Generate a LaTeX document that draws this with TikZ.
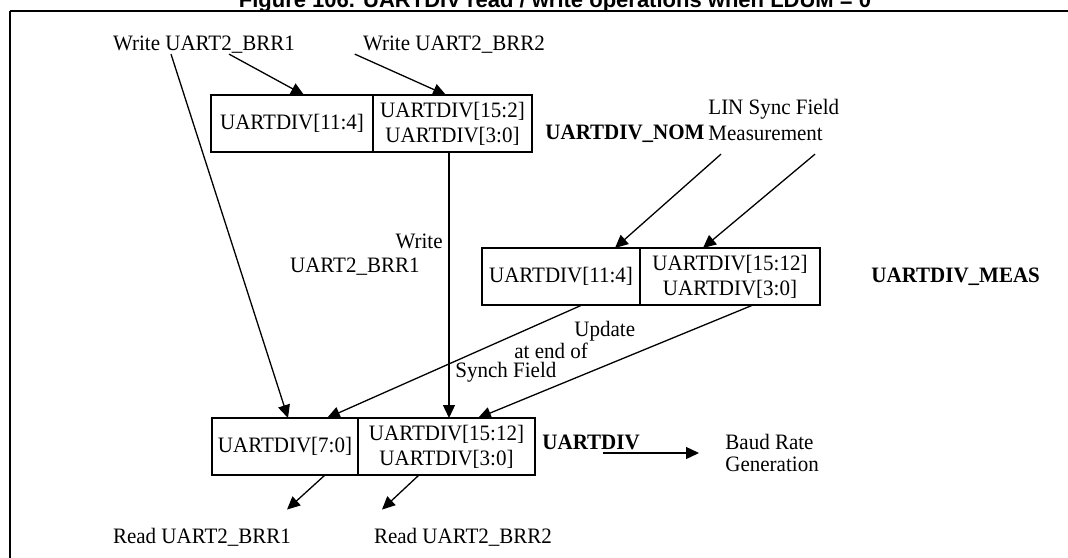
\documentclass[tikz,border=0pt]{standalone}
\usepackage{fontspec}
\setmainfont{Liberation Serif}[FakeStretch=0.955]
\newfontfamily\titlefont{Liberation Sans}
\usetikzlibrary{arrows.meta,positioning}
\tikzset{
  cell/.style={draw, line width=0.75pt, minimum height=28.5pt, inner sep=1pt, outer sep=0pt,
               align=center, font=\fontsize{11pt}{12.5pt}\selectfont},
  flow/.style={-{Triangle[length=6.5pt,width=6pt]}, line width=0.65pt},
  lbl/.style={inner sep=0pt, font=\fontsize{11pt}{12pt}\selectfont},
  reglbl/.style={inner sep=0pt, font=\fontsize{11pt}{12pt}\selectfont\bfseries}
}

\begin{document}
\begin{tikzpicture}[x=0.5pt, y=-0.5pt]
  \useasboundingbox (0,0) rectangle (1068,557);
  % frame and (cut) caption
  \node[anchor=base, inner sep=0pt, font=\titlefont\bfseries\fontsize{11pt}{12pt}\selectfont] (title)
    at (555,7) {Figure 106. UARTDIV read / write operations when LDUM = 0};
  \draw[line width=0.6pt] (10,600) -- (10,11);
  \draw[line width=1.2pt] (10,11) -- (1100,11);

  % registers
  \node[cell, minimum width=81pt, anchor=north west] (nomL) at (211,95) {UARTDIV[11:4]};
  \node[cell, minimum width=79.5pt, right=0pt of nomL] (nomR) {UARTDIV[15:2]\\UARTDIV[3:0]};
  \node[cell, minimum width=79pt, anchor=north west] (measL) at (482,248) {UARTDIV[11:4]};
  \node[cell, minimum width=90pt, right=0pt of measL] (measR) {UARTDIV[15:12]\\UARTDIV[3:0]};
  \node[cell, minimum width=73pt, anchor=north west] (divL) at (212,418) {UARTDIV[7:0]};
  \node[cell, minimum width=88.5pt, right=0pt of divL] (divR) {UARTDIV[15:12]\\UARTDIV[3:0]};

  % register names
  \node[reglbl, anchor=west] (nomlbl) at (545,134) {UARTDIV\_NOM};
  \node[reglbl, anchor=west] (measlbl) at (871,277) {UARTDIV\_MEAS};
  \node[reglbl, anchor=west] (divlbl) at (542,442) {UARTDIV};

  % labels
  \node[lbl] (w1) at (204,45) {Write UART2\_BRR1};
  \node[lbl] (w2) at (454,45) {Write UART2\_BRR2};
  \node[lbl, anchor=west, align=left, font=\fontsize{11pt}{13pt}\selectfont] (lin)
    at (708,120) {LIN Sync Field\\Measurement};
  \node[lbl, anchor=east, align=right] (wlbl) at (443,255) {Write\\UART2\_BRR1\hspace*{11.5pt}};
  \node[lbl, anchor=north west, align=left, font=\fontsize{11pt}{9.25pt}\selectfont] (upd)
    at (455,321) {\hspace*{59.5pt}Update\\\hspace*{29.5pt}at end of\\Synch Field};
  \node[lbl, anchor=west, align=left, font=\fontsize{11pt}{11pt}\selectfont] (baud)
    at (725,453) {Baud Rate\\Generation};
  \node[lbl] (r1) at (202,537) {Read UART2\_BRR1};
  \node[lbl] (r2) at (463,537) {Read UART2\_BRR2};
  \coordinate (bstart) at (603,453);

  % writes
  \draw[flow] ([xshift=12.5pt]w1.south) -- ([xshift=6pt]nomL.north);
  \draw[flow] ([xshift=-4pt]w2.south west) -- ([xshift=-3.25pt]nomR.north);
  \draw[flow] ([xshift=-16.5pt]w1.south) -- ([xshift=1.5pt]divL.north);
  \draw[flow] ([xshift=-1.75pt]nomR.south) -- ([xshift=-1.75pt]nomR.south |- divR.north);
  % measurement
  \draw[flow] ([shift={(6.5pt,-6.5pt)}]lin.south west) -- ([xshift=27pt]measL.north);
  \draw[flow] ([shift={(53.5pt,-6.5pt)}]lin.south west) -- ([xshift=-13.5pt]measR.north);
  \draw[flow] ([xshift=10.5pt]measL.south) -- ([xshift=21pt]divL.north);
  \draw[flow] ([xshift=11.5pt]measR.south) -- ([xshift=15.75pt]divR.north);
  % reads and output
  \draw[flow] ([xshift=20pt]divL.south) -- ([shift={(42.5pt,9pt)}]r1.north);
  \draw[flow] ([xshift=-13.75pt]divR.south) -- ([shift={(-40.5pt,9pt)}]r2.north);
  \draw[flow] (bstart) -- ([xshift=-13pt]baud.west);
\end{tikzpicture}
\end{document}
